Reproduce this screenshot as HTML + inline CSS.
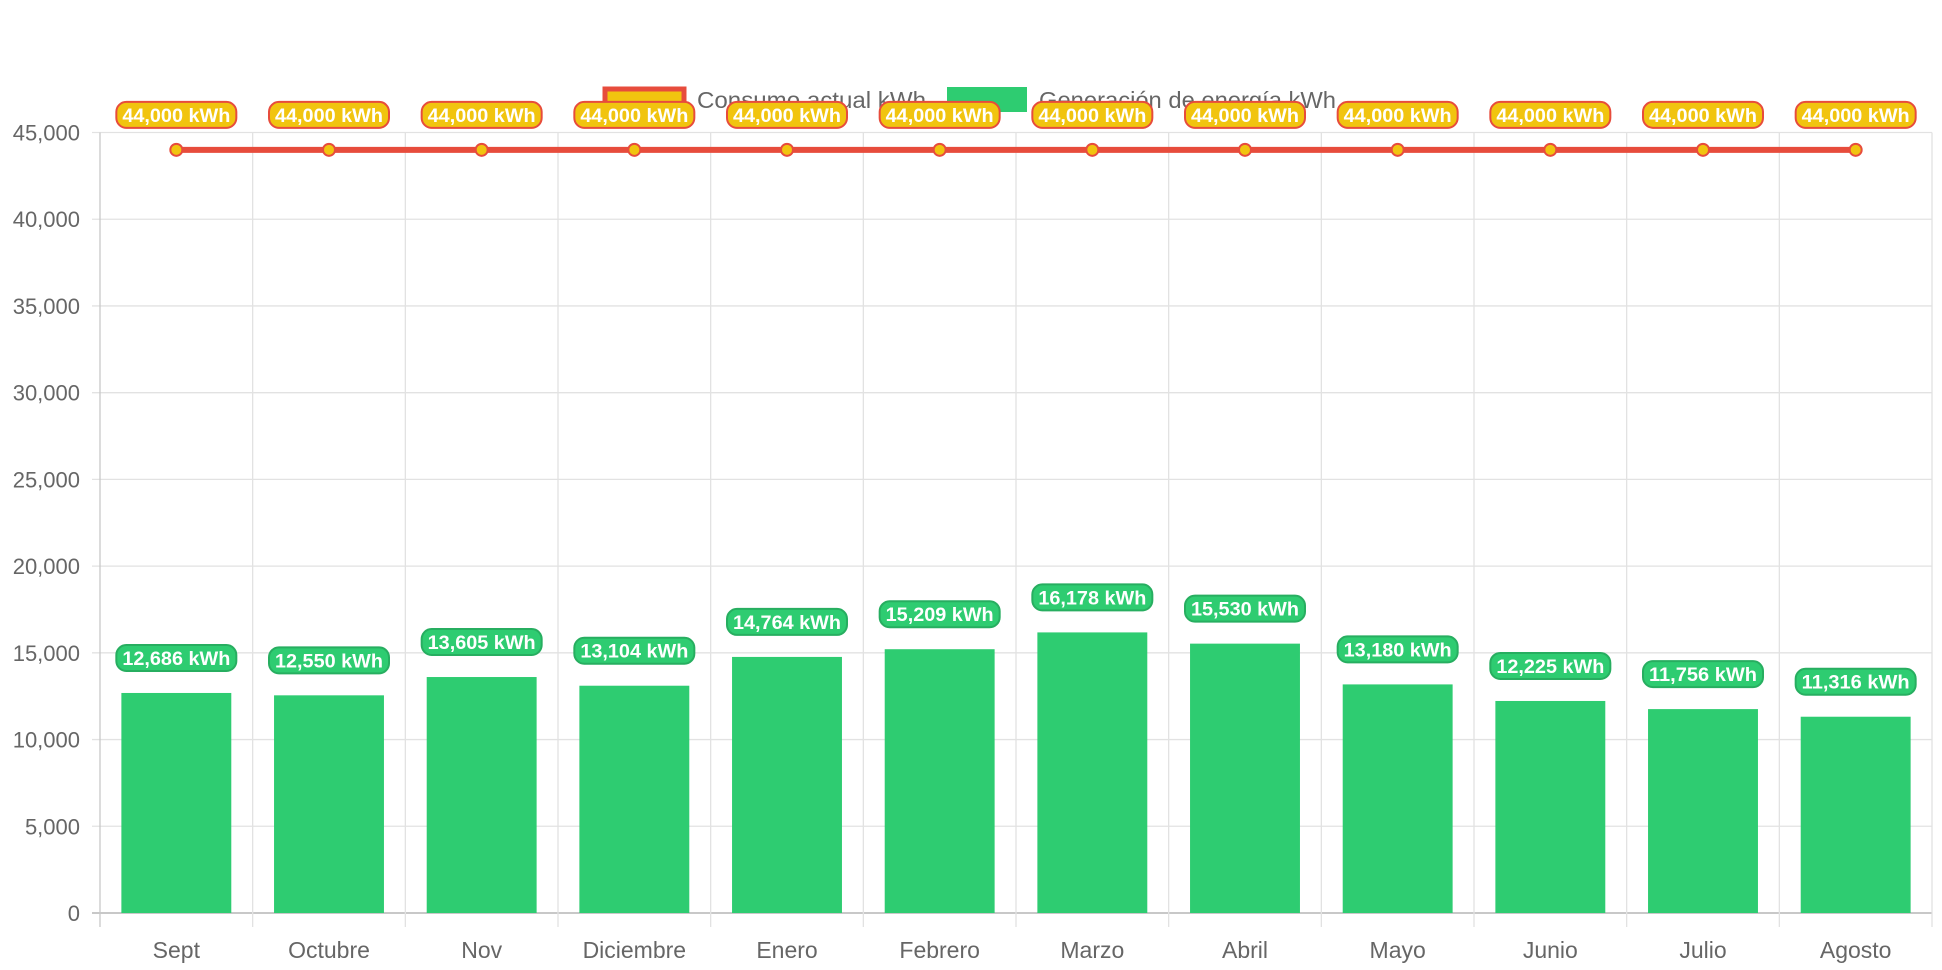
<!DOCTYPE html>
<html><head><meta charset="utf-8"><style>
html,body{margin:0;padding:0;background:#fff;}
svg{display:block;font-family:"Liberation Sans",Arial,sans-serif;}
</style></head><body>
<svg id="chart" width="1942" height="970">
<g id="legend">
  <g>
    <rect x="605" y="89" width="79" height="21" fill="#f1c40f" stroke="#e74c3c" stroke-width="5"/>
    <text x="697" y="108" font-size="23" fill="#666" textLength="229" lengthAdjust="spacingAndGlyphs">Consumo actual kWh</text>
  </g>
  <g>
    <rect x="947" y="87" width="80" height="25" fill="#2ecc71"/>
    <text x="1039" y="108" font-size="23" fill="#666" textLength="297" lengthAdjust="spacingAndGlyphs">Generación de energía kWh</text>
  </g>
</g>
<g id="grid"></g>
<g id="yaxis"></g>
<g id="xaxis"></g>
<g id="bars"></g>
<g id="line"></g>
<g id="labels"></g>
</svg>
<script>
const categories = ["Sept","Octubre","Nov","Diciembre","Enero","Febrero","Marzo","Abril","Mayo","Junio","Julio","Agosto"];
const generation = [12686,12550,13605,13104,14764,15209,16178,15530,13180,12225,11756,11316];
const consumption = [44000,44000,44000,44000,44000,44000,44000,44000,44000,44000,44000,44000];
const yTicks = [0,5000,10000,15000,20000,25000,30000,35000,40000,45000];

const NS="http://www.w3.org/2000/svg";
const L=100,R=1932,T=132.5,B=913,YMAX=45000;
const cw=(R-L)/categories.length;
const y=v=>B-(v/YMAX)*(B-T);
const xc=i=>L+cw*(i+0.5);
function mk(tag,attrs,parent){const e=document.createElementNS(NS,tag);for(const k in attrs)e.setAttribute(k,attrs[k]);parent.appendChild(e);return e;}
const fmt=v=>v.toLocaleString("en-US");
const grid=document.getElementById("grid"),ya=document.getElementById("yaxis"),xa=document.getElementById("xaxis");
yTicks.forEach(t=>{
  const ln=mk("line",{x1:L-8,x2:R,y1:y(t),y2:y(t),stroke:t===0?"#c8c8c8":"#e2e2e2","stroke-width":t===0?2:1.3},grid);
  
  
  const tx=mk("text",{x:L-20,y:y(t)+8,"text-anchor":"end","font-size":22,fill:"#666"},ya);
  tx.textContent=fmt(t);
  
  
});
for(let i=0;i<=categories.length;i++){
  const ln=mk("line",{x1:L+cw*i,x2:L+cw*i,y1:T,y2:B+14,stroke:i===0?"#c8c8c8":"#e2e2e2","stroke-width":1.3},grid);
  
  
}
categories.forEach((c,i)=>{
  const tx=mk("text",{x:xc(i),y:958,"text-anchor":"middle","font-size":23,fill:"#666"},xa);
  tx.textContent=c;
  
  
});
const bars=document.getElementById("bars"),bw=cw*0.72;
generation.forEach((v,i)=>{
  const r=mk("rect",{x:xc(i)-bw/2,y:y(v),width:bw,height:B-y(v),fill:"#2ecc71"},bars);
  
  
});
const line=document.getElementById("line");
const pl=mk("polyline",{points:consumption.map((v,i)=>xc(i)+","+y(v)).join(" "),fill:"none",stroke:"#e74c3c","stroke-width":6},line);


consumption.forEach((v,i)=>{
  const c=mk("circle",{cx:xc(i),cy:y(v),r:6,fill:"#f1c40f",stroke:"#e74c3c","stroke-width":2},line);
  
  
});
const labels=document.getElementById("labels");
function lab(cx,cy,text,fill,stroke){
  const g=mk("g",{},labels);
  
  
  mk("rect",{x:cx-60,y:cy-13,width:120,height:26,rx:10,fill:fill,stroke:stroke,"stroke-width":2},g);
  const t=mk("text",{x:cx,y:cy+7,"text-anchor":"middle","font-size":19,"font-weight":"bold",fill:"#fff",textLength:108,lengthAdjust:"spacingAndGlyphs"},g);
  t.textContent=text;
}
generation.forEach((v,i)=>lab(xc(i),y(v)-35,fmt(v)+" kWh","#2ecc71","#27ae60"));
consumption.forEach((v,i)=>lab(xc(i),y(v)-35,fmt(v)+" kWh","#f1c40f","#e74c3c"));
</script>
</body></html>
